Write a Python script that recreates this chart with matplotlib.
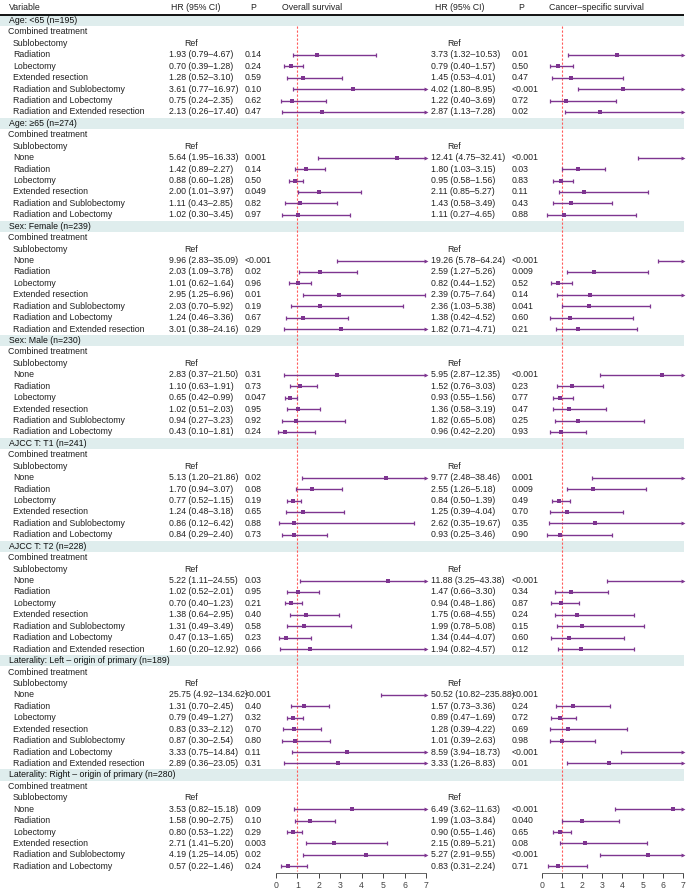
import matplotlib
matplotlib.use("Agg")
import matplotlib.pyplot as plt

plt.rcParams['font.family'] = ['Liberation Sans', 'DejaVu Sans']

# ---------------- data ----------------
groups = [
    "Age: <65 (n=195)",
    "Age: \u226565 (n=274)",
    "Sex: Female (n=239)",
    "Sex: Male (n=230)",
    "AJCC T: T1 (n=241)",
    "AJCC T: T2 (n=228)",
    "Laterality: Left \u2013 origin of primary (n=189)",
    "Laterality: Right \u2013 origin of primary (n=280)",
]
t6 = ["Radiation", "Lobectomy", "Extended resection", "Radiation and Sublobectomy",
      "Radiation and Lobectomy", "Radiation and Extended resection"]
n6 = ["None", "Radiation", "Lobectomy", "Extended resection",
      "Radiation and Sublobectomy", "Radiation and Lobectomy"]
n7 = ["None"] + t6
treatments = [t6, n6, n7, n6, n6, n7, n7, n6]

os_hr = [[1.93, 0.70, 1.28, 3.61, 0.75, 2.13],
         [5.64, 1.42, 0.88, 2.00, 1.11, 1.02],
         [9.96, 2.03, 1.01, 2.95, 2.03, 1.24, 3.01],
         [2.83, 1.10, 0.65, 1.02, 0.94, 0.43],
         [5.13, 1.70, 0.77, 1.24, 0.86, 0.84],
         [5.22, 1.02, 0.70, 1.38, 1.31, 0.47, 1.60],
         [25.75, 1.31, 0.79, 0.83, 0.87, 3.33, 2.89],
         [3.53, 1.58, 0.80, 2.71, 4.19, 0.57]]
os_lo = [[0.79, 0.39, 0.52, 0.77, 0.24, 0.26],
         [1.95, 0.89, 0.60, 1.01, 0.43, 0.30],
         [2.83, 1.09, 0.62, 1.25, 0.70, 0.46, 0.38],
         [0.37, 0.63, 0.42, 0.51, 0.27, 0.10],
         [1.20, 0.94, 0.52, 0.48, 0.12, 0.29],
         [1.11, 0.52, 0.40, 0.64, 0.49, 0.13, 0.20],
         [4.92, 0.70, 0.49, 0.33, 0.30, 0.75, 0.36],
         [0.82, 0.90, 0.53, 1.41, 1.25, 0.22]]
os_hi = [[4.67, 1.28, 3.10, 16.97, 2.35, 17.40],
         [16.33, 2.27, 1.28, 3.97, 2.85, 3.45],
         [35.09, 3.78, 1.64, 6.96, 5.92, 3.36, 24.16],
         [21.50, 1.91, 0.99, 2.03, 3.23, 1.81],
         [21.86, 3.07, 1.15, 3.18, 6.42, 2.40],
         [24.55, 2.01, 1.23, 2.95, 3.49, 1.65, 12.92],
         [134.62, 2.45, 1.27, 2.12, 2.54, 14.84, 23.05],
         [15.18, 2.75, 1.22, 5.20, 14.05, 1.46]]
os_p = [["0.14", "0.24", "0.59", "0.10", "0.62", "0.47"],
        ["0.001", "0.14", "0.50", "0.049", "0.82", "0.97"],
        ["<0.001", "0.02", "0.96", "0.01", "0.19", "0.67", "0.29"],
        ["0.31", "0.73", "0.047", "0.95", "0.92", "0.24"],
        ["0.02", "0.08", "0.19", "0.65", "0.88", "0.73"],
        ["0.03", "0.95", "0.21", "0.40", "0.58", "0.23", "0.66"],
        ["<0.001", "0.40", "0.32", "0.70", "0.80", "0.11", "0.31"],
        ["0.09", "0.10", "0.29", "0.003", "0.02", "0.24"]]

css_hr = [[3.73, 0.79, 1.45, 4.02, 1.22, 2.87],
          [12.41, 1.80, 0.95, 2.11, 1.43, 1.11],
          [19.26, 2.59, 0.82, 2.39, 2.36, 1.38, 1.82],
          [5.95, 1.52, 0.93, 1.36, 1.82, 0.96],
          [9.77, 2.55, 0.84, 1.25, 2.62, 0.93],
          [11.88, 1.47, 0.94, 1.75, 1.99, 1.34, 1.94],
          [50.52, 1.57, 0.89, 1.28, 1.01, 8.59, 3.33],
          [6.49, 1.99, 0.90, 2.15, 5.27, 0.83]]
css_lo = [[1.32, 0.40, 0.53, 1.80, 0.40, 1.13],
          [4.75, 1.03, 0.58, 0.85, 0.58, 0.27],
          [5.78, 1.27, 0.44, 0.75, 1.03, 0.42, 0.71],
          [2.87, 0.76, 0.55, 0.58, 0.65, 0.42],
          [2.48, 1.26, 0.50, 0.39, 0.35, 0.25],
          [3.25, 0.66, 0.48, 0.68, 0.78, 0.44, 0.82],
          [10.82, 0.73, 0.47, 0.39, 0.39, 3.94, 1.26],
          [3.62, 1.03, 0.55, 0.89, 2.91, 0.31]]
css_hi = [[10.53, 1.57, 4.01, 8.95, 3.69, 7.28],
          [32.41, 3.15, 1.56, 5.27, 3.49, 4.65],
          [64.24, 5.26, 1.52, 7.64, 5.38, 4.52, 4.71],
          [12.35, 3.03, 1.56, 3.19, 5.08, 2.20],
          [38.46, 5.18, 1.39, 4.04, 19.67, 3.46],
          [43.38, 3.30, 1.86, 4.55, 5.08, 4.07, 4.57],
          [235.88, 3.36, 1.69, 4.22, 2.63, 18.73, 8.83],
          [11.63, 3.84, 1.46, 5.21, 9.55, 2.24]]
css_p = [["0.01", "0.50", "0.47", "<0.001", "0.72", "0.02"],
         ["<0.001", "0.03", "0.83", "0.11", "0.43", "0.88"],
         ["<0.001", "0.009", "0.52", "0.14", "0.041", "0.60", "0.21"],
         ["<0.001", "0.23", "0.77", "0.47", "0.25", "0.93"],
         ["0.001", "0.009", "0.49", "0.70", "0.35", "0.90"],
         ["<0.001", "0.34", "0.87", "0.24", "0.15", "0.60", "0.12"],
         ["<0.001", "0.24", "0.72", "0.69", "0.98", "<0.001", "0.01"],
         ["<0.001", "0.040", "0.65", "0.08", "<0.001", "0.71"]]

x_ticks = [0, 1, 2, 3, 4, 5, 6, 7]

# ---------------- layout ----------------
W, H = 687, 890
FS = 6.3
TXT = "#222222"
PURPLE = "#7e3590"
BAND = "#dfeded"
ROW0, ROWH = 20.5, 11.43
AX_TOP, AX_BOT = 15, 873

fig = plt.figure(figsize=(W / 100, H / 100), dpi=100)
bg = fig.add_axes([0, 0, 1, 1])
bg.set_xlim(0, W)
bg.set_ylim(H, 0)
bg.axis("off")

def make_ax(x0, x1):
    ax = fig.add_axes([x0 / W, 1 - AX_BOT / H, (x1 - x0) / W, (AX_BOT - AX_TOP) / H])
    ax.set_xlim(0, 7)
    ax.set_ylim(AX_BOT, AX_TOP)
    ax.patch.set_visible(False)
    for s in ["left", "top", "right"]:
        ax.spines[s].set_visible(False)
    ax.spines["bottom"].set_color("#666666")
    ax.spines["bottom"].set_linewidth(0.7)
    ax.set_yticks([])
    ax.set_xticks(x_ticks)
    ax.tick_params(axis="x", labelsize=FS, colors="#444444", length=3.5, width=0.7, pad=2)
    return ax

ax_os = make_ax(276, 426)
ax_css = make_ax(541.7, 683)

# header
hy = 8
bg.text(9, hy, "Variable", fontsize=FS, color=TXT, va="center")
bg.text(196, hy, "HR (95% CI)", fontsize=FS, color=TXT, va="center", ha="center")
bg.text(253, hy, "P", fontsize=FS, color=TXT, va="center", ha="center")
bg.text(312, hy, "Overall survival", fontsize=FS, color=TXT, va="center", ha="center")
bg.text(460, hy, "HR (95% CI)", fontsize=FS, color=TXT, va="center", ha="center")
bg.text(521, hy, "P", fontsize=FS, color=TXT, va="center", ha="center")
bg.text(596, hy, "Cancer\u2013specific survival", fontsize=FS, color=TXT, va="center", ha="center")
bg.plot([0, 684], [15, 15], color="black", lw=1.3, solid_capstyle="butt")


def draw_ci(ax, y, hr, lo, hi):
    if lo >= 7:
        return
    right = min(hi, 7)
    ax.plot([lo, right], [y, y], color=PURPLE, lw=1.0, solid_capstyle="butt", clip_on=False, zorder=3)
    ax.plot([lo], [y], marker="|", ms=3.5, mew=0.9, color=PURPLE, clip_on=False, zorder=3)
    if hi <= 7:
        ax.plot([hi], [y], marker="|", ms=3.5, mew=0.9, color=PURPLE, clip_on=False, zorder=3)
    else:
        ax.plot([7], [y], marker=">", ms=2.8, mew=0, color=PURPLE, clip_on=False, zorder=3)
    if hr <= 7:
        ax.plot([hr], [y], marker="s", ms=2.2, mew=0, color=PURPLE, clip_on=False, zorder=4)


def fmt(hr, lo, hi):
    return f"{hr:.2f} ({lo:.2f}\u2013{hi:.2f})"


row = 0
last_y = None
first_y = None
for g, name in enumerate(groups):
    y = ROW0 + row * ROWH
    if first_y is None:
        first_y = y
    bg.add_patch(plt.Rectangle((0, y - ROWH / 2), 684, ROWH, color=BAND, lw=0, zorder=0))
    bg.text(9, y, name, fontsize=FS, color="#111111", va="center", zorder=2)
    row += 1
    y = ROW0 + row * ROWH
    bg.text(8, y, "Combined treatment", fontsize=FS, color=TXT, va="center")
    row += 1
    y = ROW0 + row * ROWH
    bg.text(13, y, "Sublobectomy", fontsize=FS, color=TXT, va="center")
    bg.text(184, y, "Ref", fontsize=FS, color=TXT, va="center")
    bg.text(447, y, "Ref", fontsize=FS, color=TXT, va="center")
    row += 1
    for k, t in enumerate(treatments[g]):
        y = ROW0 + row * ROWH
        bg.text(13, y, t, fontsize=FS, color=TXT, va="center")
        bg.text(169, y, fmt(os_hr[g][k], os_lo[g][k], os_hi[g][k]), fontsize=FS, color=TXT, va="center")
        bg.text(245, y, os_p[g][k], fontsize=FS, color=TXT, va="center")
        bg.text(431, y, fmt(css_hr[g][k], css_lo[g][k], css_hi[g][k]), fontsize=FS, color=TXT, va="center")
        bg.text(512, y, css_p[g][k], fontsize=FS, color=TXT, va="center")
        draw_ci(ax_os, y, os_hr[g][k], os_lo[g][k], os_hi[g][k])
        draw_ci(ax_css, y, css_hr[g][k], css_lo[g][k], css_hi[g][k])
        last_y = y
        row += 1

for ax in (ax_os, ax_css):
    ax.plot([1, 1], [first_y + 6, AX_BOT - 2], color="#ff5a5a", lw=0.8,
            linestyle=(0, (2, 1.6)), zorder=2)

fig.savefig("out.png", dpi=100)
